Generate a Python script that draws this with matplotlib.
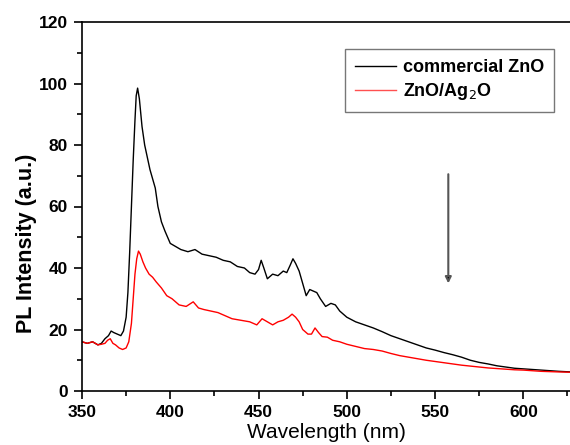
import matplotlib
matplotlib.use("Agg")
import matplotlib.pyplot as plt
from matplotlib.ticker import MultipleLocator

plt.rcParams['font.family'] = ['Liberation Sans', 'DejaVu Sans']

wl_black = [350, 353, 356, 359, 361, 363, 365, 366.5, 368, 370, 372, 373.5, 375, 376, 377, 378, 379, 380, 380.7, 381.5,
            382.5, 384, 385.5, 387, 388.5, 390, 391.5, 393, 395, 397, 400, 403, 406, 410, 414, 418, 422, 426, 430,
            434, 438, 442, 445, 448, 450, 451.5, 453, 455, 458, 461, 464, 466, 468, 469.5, 471, 473, 475, 477, 479,
            481, 483, 485, 488, 491, 493.5, 496, 500, 505, 510, 515, 520, 525, 530, 535, 540, 545, 550, 555, 560,
            565, 570, 575, 580, 585, 590, 595, 600, 605, 610, 615, 620, 627]
int_black = [16, 15.5, 16, 15, 15.5, 17, 18, 19.5, 19, 18.5, 18, 19.5, 24, 32, 45, 60, 75, 88, 96, 98.5,
             95, 86, 80, 76, 72, 69, 66, 60, 55, 52, 48, 47, 46, 45.3, 46, 44.5, 44, 43.5, 42.5,
             42, 40.5, 40, 38.5, 38, 39.5, 42.5, 40, 36.5, 38, 37.5, 39, 38.5, 41, 43, 41.5, 39, 35, 31, 33,
             32.5, 32, 30, 27.5, 28.5, 28, 26, 24, 22.5, 21.5, 20.5, 19.3, 18, 17, 16, 15, 14, 13.3, 12.5, 11.8,
             11, 10, 9.3, 8.8, 8.2, 7.8, 7.4, 7.2, 7, 6.8, 6.6, 6.4, 6.2]

wl_red = [350, 353, 356, 359, 361, 363, 364.5, 366, 367.5, 369, 371, 373, 375, 376.5, 378, 379, 380, 381, 382,
          383, 384.5, 386, 388, 390, 392, 395, 398, 401, 405, 409, 413, 416, 419, 423, 427, 431, 435, 440, 445,
          449, 452, 455, 458, 461, 464, 467, 469, 471, 473, 475, 478, 480, 482, 484, 486, 489, 492, 496, 500,
          505, 510, 515, 520, 525, 530, 535, 540, 545, 550, 555, 560, 565, 570, 575, 580, 585, 590, 595, 600,
          605, 610, 615, 620, 627]
int_red = [16, 15.5, 16, 15, 15.2, 15.5, 16.5, 17, 15.5, 15, 14, 13.5, 14, 16, 22, 30, 38, 43, 45.5,
           44.5, 42, 40, 38, 37, 35.5, 33.5, 31, 30, 28, 27.5, 29, 27, 26.5, 26, 25.5, 24.5, 23.5, 23, 22.5,
           21.5, 23.5, 22.5, 21.5, 22.5, 23, 24, 25, 24, 22.5, 20, 18.5, 18.5, 20.5, 19, 17.7, 17.5, 16.5, 16, 15.2,
           14.5, 13.8, 13.5, 13, 12.2, 11.5, 11, 10.5, 10, 9.6, 9.2, 8.8, 8.4, 8.1, 7.8, 7.5, 7.3, 7.1, 6.9, 6.8,
           6.6, 6.4, 6.3, 6.2, 6.1]

xticks = [350, 400, 450, 500, 550, 600]
yticks = [0, 20, 40, 60, 80, 100, 120]

W, H = 570, 445
fig = plt.figure(figsize=(W / 100, H / 100), dpi=100)
ax = fig.add_axes([82 / W, 1 - 391 / H, (571 - 82) / W, (391 - 22) / H])

ax.plot(wl_black, int_black, color='black', lw=1.0, label='commercial ZnO')
ax.plot(wl_red, int_red, color='#ff0000', lw=1.0, label='ZnO/Ag$_2$O')

ax.set_xlim(350, 627)
ax.set_ylim(0, 120)
ax.set_xticks(xticks)
ax.set_yticks(yticks)
ax.xaxis.set_minor_locator(MultipleLocator(25))
ax.yaxis.set_minor_locator(MultipleLocator(10))
ax.tick_params(which='major', direction='out', length=6, width=1.2, labelsize=12.5, pad=4)
ax.tick_params(which='minor', direction='out', length=3.5, width=1.2)
for lab in ax.get_xticklabels() + ax.get_yticklabels():
    lab.set_fontweight('bold')
for sp in ax.spines.values():
    sp.set_linewidth(1.2)

ax.set_xlabel('Wavelength (nm)', fontsize=15)
ax.xaxis.set_label_coords(0.5, -(433 - 391) / 369, transform=ax.transAxes)
ax.xaxis.label.set_verticalalignment('center')
ax.set_ylabel('PL Intensity (a.u.)', fontsize=15.5, fontweight='bold')
ax.yaxis.set_label_coords(-(82 - 27) / 489, (391 - 243) / 369, transform=ax.transAxes)
ax.yaxis.label.set_verticalalignment('center')

leg = ax.legend(loc='upper left', bbox_to_anchor=(345 / W, 1 - 49 / H), bbox_transform=fig.transFigure,
                borderaxespad=0, frameon=True, fancybox=False, edgecolor='#555555',
                prop={'weight': 'bold', 'size': 13}, handlelength=2.3,
                borderpad=0.55, labelspacing=0.28, handletextpad=0.35)
leg.get_frame().set_linewidth(1.0)
leg.get_lines()[1].set_color('#ff5050')

ax.annotate('', xy=(557.5, 35), xytext=(557.5, 70.5),
            arrowprops=dict(arrowstyle='-|>', color='#888888', lw=1.5, mutation_scale=9,
                            shrinkA=0, shrinkB=0, fc='black', ec='#555555'))

fig.savefig('out.png', dpi=100)
